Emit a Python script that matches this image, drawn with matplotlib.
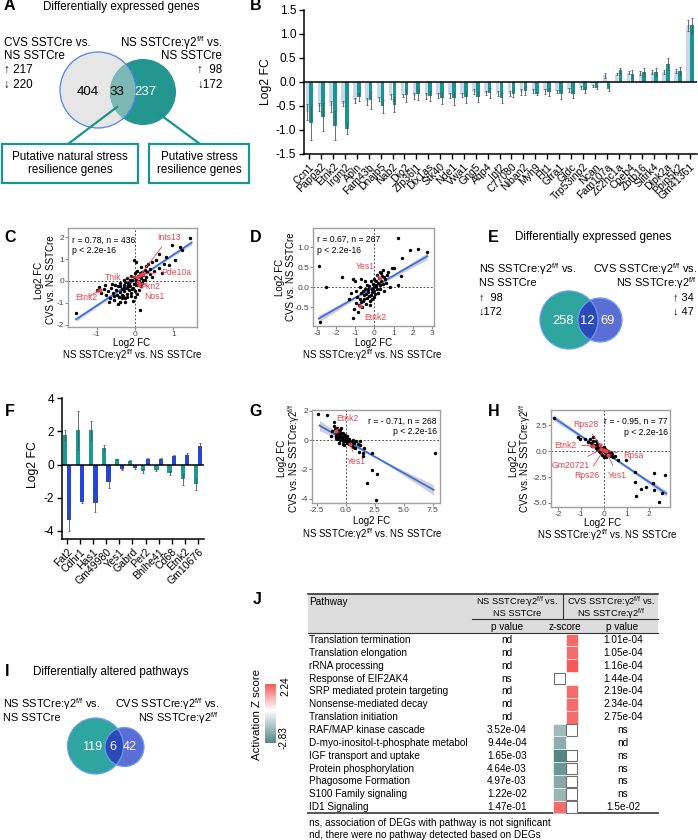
import numpy as np
import matplotlib
matplotlib.use('Agg')
import matplotlib.pyplot as plt
from matplotlib.patches import Circle, Rectangle
from matplotlib.colors import LinearSegmentedColormap, Normalize

plt.rcParams['font.family'] = ['Liberation Sans', 'DejaVu Sans']
plt.rcParams['mathtext.fontset'] = 'custom'
plt.rcParams['mathtext.rm'] = 'Liberation Sans'
plt.rcParams['mathtext.it'] = 'Liberation Sans:italic'
plt.rcParams['mathtext.bf'] = 'Liberation Sans:bold'

# ---------------- data ----------------
# Panel A venn
a_counts = ['404', '33', '237']
a_left_up, a_left_down = 217, 220
a_right_up, a_right_down = 98, 172

# Panel B
b_genes = ['Ccn1', 'Pappa2', 'Etnk2', 'Irgm2', 'Apln', 'Fam43b', 'Dnajb5', 'Nab2', 'Dio2', 'Zfp36l1',
           'Dlx1as', 'Stk40', 'Nde1', 'Vwa1', 'Gng5', 'Aqp4', 'Inf2', 'C77080', 'Niban2', 'Myh9',
           'Flt1', 'Gfra1', 'Gldc', 'Trp53inp2', 'Ncan', 'Fam107a', 'Zc2hc1a', 'Cpeb4', 'Zbtb16',
           'Slitrk4', 'Dlpk2a', 'Ppip5k2', 'Gm41361']
b_cvs = [-0.63, -0.52, -0.51, -0.45, -0.38, -0.40, -0.35, -0.30, -0.28, -0.29,
         -0.29, -0.28, -0.28, -0.27, -0.20, -0.23, -0.24, -0.24, -0.21, -0.19,
         -0.19, -0.19, -0.16, -0.12, -0.09, 0.14, 0.16, 0.19, 0.19, 0.21, 0.21, 0.23, 1.18]
b_cvs_err = [0.17, 0.08, 0.12, 0.05, 0.05, 0.07, 0.04, 0.05, 0.04, 0.06,
             0.06, 0.05, 0.05, 0.05, 0.05, 0.04, 0.06, 0.05, 0.06, 0.04,
             0.05, 0.03, 0.04, 0.03, 0.02, 0.05, 0.02, 0.03, 0.04, 0.04, 0.04, 0.04, 0.12]
b_ns = [-0.85, -0.73, -0.91, -0.97, -0.31, -0.38, -0.51, -0.47, -0.28, -0.26,
        -0.29, -0.33, -0.34, -0.31, -0.31, -0.23, -0.33, -0.24, -0.19, -0.24,
        -0.21, -0.26, -0.26, -0.17, -0.12, -0.14, 0.24, 0.17, 0.21, 0.21, 0.38, 0.23, 1.18]
b_ns_err = [0.35, 0.30, 0.30, 0.12, 0.08, 0.18, 0.14, 0.16, 0.13, 0.12,
            0.10, 0.12, 0.14, 0.12, 0.10, 0.10, 0.10, 0.08, 0.08, 0.04,
            0.08, 0.10, 0.08, 0.06, 0.03, 0.05, 0.06, 0.08, 0.08, 0.08, 0.13, 0.08, 0.15]

# Panel C scatter
c_x = [1.43, 1.17, 0.96, 1.22, 0.63, 0.82, 0.55, 0.45, 0.35, 0.28,
       -0.03, 0.02, 0.15, 0.62, 0.90, 0.50, 0.70, 0.38, 1.05, 0.75,
       -1.54, 0.13, -1.00, -0.95, -0.88, -0.80, -0.75, -0.70, -0.65, -0.62,
       -0.58, -0.55, -0.50, -0.48, -0.45, -0.42, -0.40, -0.38, -0.35, -0.33,
       -0.30, -0.28, -0.25, -0.22, -0.20, -0.18, -0.15, -0.12, -0.10, -0.08,
       -0.05, -0.03, 0.00, 0.02, 0.05, 0.08, 0.10, 0.12, 0.15, 0.18,
       0.20, 0.22, 0.25, 0.28, 0.32, -0.60, -0.52, -0.40, -0.30, -0.20,
       -0.10, 0.00, 0.05, -0.35, -0.20, -0.10, 0.00, 0.05, 0.10, 0.15,
       -0.68, -0.45, -0.25, -0.05, -0.15, -0.25, -0.08, 0.02, -0.12, -0.02,
       0.18, 0.25, -0.38, -0.28, -0.18, -0.32, -0.55, -0.78, 0.40, 0.45]
c_y = [1.97, 1.58, 1.63, 1.40, 1.25, 1.12, 0.95, 0.88, 0.78, 0.70,
       0.97, 0.85, 0.62, 0.60, 0.72, 0.45, 0.38, 0.30, 0.95, 0.80,
       -1.45, -1.35, -0.42, -0.28, -0.55, -0.35, -0.62, -0.45, -0.78, -0.30,
       -0.55, -0.88, -0.40, -0.65, -0.25, -0.75, -0.50, -0.95, -0.35, -0.62,
       -0.20, -0.48, -0.80, -0.30, -0.60, -0.10, -0.42, -0.25, -0.55, 0.05,
       -0.30, -0.12, -0.45, 0.10, -0.20, 0.25, 0.00, 0.35, 0.15, 0.42,
       0.05, 0.28, 0.50, 0.18, 0.40, -0.15, -0.20, -0.10, 0.05, 0.15,
       0.25, 0.35, 0.45, -0.80, -0.75, -0.70, -0.75, -0.60, -0.40, -0.25,
       -0.95, -1.05, -0.98, -0.90, -0.15, -0.05, -0.38, -0.05, 0.05, 0.18,
       -0.08, 0.05, -0.25, -0.32, -0.22, -0.70, -0.70, -0.20, 0.55, 0.20]
c_fit_x, c_fit_y = [-1.54, 1.48], [-1.76, 1.76]
c_band = (0.03, 0.10)
c_lab = ['Ints13', 'Pde10a', 'Tnik', 'Pkn2', 'Nos1', 'Etnk2']
c_lab_px = [0.13, 0.22, 0.04, 0.09, 0.11, -0.91]
c_lab_py = [0.26, 0.34, 0.18, -0.05, -0.20, -0.43]
c_lab_tx = [0.89, 1.09, -0.57, 0.39, 0.50, -1.27]
c_lab_ty = [2.00, 0.41, 0.16, -0.27, -0.73, -0.75]

# Panel D scatter
d_x = [-2.90, -2.50, -2.85, -1.70, 1.20, 1.85, 2.25, 2.75, 1.45, -1.10,
       1.40, 1.00, 0.90, 0.70, -1.00, -1.10, 0.80, 1.20, -1.30, -0.70,
       -0.50, 0.50, -1.05, -0.95, -0.90, -0.85, -0.80, -0.75, -0.70, -0.65,
       -0.60, -0.55, -0.50, -0.45, -0.40, -0.35, -0.30, -0.25, -0.20, -0.15,
       -0.10, -0.05, 0.00, 0.05, 0.10, 0.15, 0.20, 0.25, 0.30, 0.35,
       0.40, 0.45, 0.55, 0.60, 0.65, -0.60, -0.45, -0.30, -0.15, 0.05,
       -0.55, -0.40, -0.20, 0.00, 0.15, 0.35, 0.50, -0.95, -0.75, -0.25,
       -0.70, 0.20, -0.12, -0.32, 0.28, 0.45, -1.20, 0.30, -0.05, 0.10]
d_y = [0.52, 0.00, -0.88, 0.25, 1.22, 0.93, 0.95, 0.87, 0.72, -0.78,
       0.28, 0.48, 0.47, 0.38, 0.15, 0.20, 0.00, 0.05, -0.30, 0.20,
       0.15, -0.10, -0.55, -0.40, -0.25, -0.62, -0.45, -0.30, -0.15, -0.50,
       -0.35, -0.20, -0.05, -0.42, -0.28, -0.12, 0.02, -0.35, -0.20, -0.05,
       0.08, -0.25, -0.10, 0.05, 0.15, -0.05, 0.10, 0.22, 0.05, 0.15,
       0.28, 0.08, 0.20, 0.10, 0.30, -0.10, -0.18, -0.22, -0.30, -0.18,
       -0.30, 0.05, 0.15, 0.20, 0.30, 0.35, 0.25, -0.10, 0.00, -0.45,
       -0.38, -0.15, -0.12, -0.05, 0.38, 0.42, -0.15, -0.05, 0.00, 0.02]
d_fit_x, d_fit_y = [-2.90, 2.75], [-0.79, 0.77]
d_band = (0.03, 0.09)
d_lab = ['Yes1', 'Etnk2']
d_lab_px = [0.31, -0.73]
d_lab_py = [0.22, -0.48]
d_lab_tx = [-0.48, 0.04]
d_lab_ty = [0.51, -0.75]

# Panel E venn
e_counts = ['258', '12', '69']
e_left_up, e_left_down = 98, 172
e_right_up, e_right_down = 34, 47

# Panel F
f_genes = ['Fat2', 'Cdhr1', 'Has1', 'Gm49980', 'Yes1', 'Gabrd', 'Per2', 'Bhlhe41', 'Cd68', 'Etnk2', 'Gm10676']
f_ns = [1.80, 2.06, 2.06, 1.00, 0.32, 0.20, -0.40, -0.34, -0.54, -0.90, -1.20]
f_ns_err = [0.30, 1.20, 0.60, 0.20, 0.04, 0.05, 0.14, 0.08, 0.12, 0.34, 0.32]
f_cvs = [-3.34, -2.28, -2.34, -1.08, -0.30, -0.20, 0.32, 0.32, 0.50, 0.56, 1.10]
f_cvs_err = [0.70, 0.05, 0.54, 0.36, 0.06, 0.05, 0.10, 0.08, 0.05, 0.14, 0.20]

# Panel G scatter
g_x = [-2.47, -1.66, -1.08, -1.00, -0.95, -0.90, -0.85, -0.80, -0.75, -0.70,
       -0.65, -0.60, -0.55, -0.50, -0.45, -0.40, -0.35, -0.30, -0.25, -0.20,
       -0.15, -0.10, -0.05, 0.00, 0.05, 0.10, 0.15, 0.20, 0.25, 0.30,
       0.35, 0.40, 0.50, 0.55, 0.60, 0.70, 0.80, 0.90, 1.00, 1.10,
       1.25, 1.20, 1.54, 1.48, 1.50, 2.27, 2.27, 2.70, 1.83, 2.62,
       7.70, -1.20, -1.30, -0.60, -0.30, -0.90, -0.45, 0.10, 0.60, -0.20]
g_y = [1.77, 1.68, 1.26, 0.95, 0.75, 0.50, 0.30, 0.85, 0.10, 0.60,
       0.40, 0.20, 0.70, 0.00, 0.50, 0.30, 0.15, 0.45, -0.05, 0.25,
       0.10, 0.35, -0.10, 0.15, 0.00, -0.20, 0.10, -0.10, -0.30, 0.05,
       -0.15, -0.35, -0.10, -0.25, -0.45, -0.20, -0.57, -0.05, -0.30, -0.80,
       -0.34, -0.05, -0.57, -0.92, -1.10, -0.92, -2.07, -2.30, -2.92, -4.07,
       -0.87, 0.60, 0.30, -0.20, -0.25, 0.15, 0.85, 0.30, 0.00, -0.35]
g_fit_x, g_fit_y = [-2.30, 7.59], [0.99, -3.40]
g_band = (0.06, 0.35)
g_lab = ['Etnk2', 'Yes1']
g_lab_px = [-0.84, 0.38]
g_lab_py = [0.62, -0.28]
g_lab_tx = [0.12, 0.88]
g_lab_ty = [1.44, -1.47]

# Panel H scatter
h_x = [-2.15, -1.12, -1.05, -0.83, -0.61, -0.47, -0.45, -0.35, -0.55, -0.40,
       -0.30, -0.25, -0.20, -0.15, -0.10, -0.05, 0.00, 0.05, 0.10, 0.15,
       0.20, 0.25, 0.30, -0.05, 0.00, 0.10, -0.10, -0.20, -0.30, 0.35,
       0.40, 0.63, 0.99, 1.36, 1.36, 1.43, 1.84, 1.65, 2.16, 2.19,
       2.20, 2.42, 2.67, 2.57, -0.70, -0.50, 0.05, 0.20, -0.15, 0.00,
       0.30, 0.50, -0.35, 0.12]
h_y = [3.18, 1.40, 1.23, 1.23, 1.23, 1.40, 1.00, 0.95, 0.80, 0.60,
       0.70, 0.40, 0.55, 0.30, 0.15, 0.35, 0.05, -0.10, 0.10, -0.25,
       -0.40, -0.15, -0.50, -0.35, -0.55, -0.60, -0.20, 0.00, 0.20, -0.30,
       -0.60, -0.88, -0.81, -2.01, -2.99, -4.35, -3.47, -3.64, -3.05, -3.80,
       -2.11, -4.87, -2.27, -4.03, 0.90, 0.50, 0.20, 0.00, -0.10, 0.40,
       -0.10, -0.45, 0.30, -0.40]
h_fit_x, h_fit_y = [-2.18, 2.74], [3.25, -4.10]
h_band = (0.10, 0.30)
h_lab = ['Rps28', 'Etnk2', 'Gm20721', 'Rps26', 'Yes1', 'Rpsa']
h_lab_px = [-0.15, -0.45, -0.10, 0.00, 0.20, 0.10]
h_lab_py = [0.60, 0.55, 0.20, 0.10, -0.35, 0.05]
h_lab_tx = [-0.80, -1.69, -1.42, -0.72, 0.58, 1.28]
h_lab_ty = [2.60, 0.55, -1.33, -2.37, -2.37, -0.39]

# Panel I venn
i_counts = ['119', '6', '42']

# Panel J table
pathways = ['Translation termination', 'Translation elongation', 'rRNA processing',
            'Response of EIF2AK4', 'SRP mediated protein targeting', 'Nonsense-mediated decay',
            'Translation initiation', 'RAF/MAP kinase cascade', 'D-myo-inositol-t-phosphate metabol',
            'IGF transport and uptake', 'Protein phosphorylation', 'Phagosome Formation',
            'S100 Family signaling', 'ID1 Signaling']
p_ns = ['nd', 'nd', 'nd', 'ns', 'nd', 'nd', 'nd', '3.52e-04', '9.44e-04', '1.65e-03',
        '4.64e-03', '4.97e-03', '1.22e-02', '1.47e-01']
p_cvs = ['1.01e-04', '1.05e-04', '1.16e-04', '1.44e-04', '2.19e-04', '2.34e-04', '2.75e-04',
         'ns', 'nd', 'ns', 'ns', 'ns', 'ns', '1.5e-02']
nan = float('nan')
z_ns = [nan, nan, nan, 0.0, nan, nan, nan, -1.6, -1.9, -2.83, -2.45, -2.0, -1.7, 2.0]
z_cvs = [2.0, 2.0, 2.24, nan, 2.0, 2.0, 2.0, 0.0, nan, 0.0, 0.0, 0.0, 0.0, 0.0]
z_min, z_max = -2.83, 2.24

# ---------------- figure ----------------
W, H = 698, 840
fig = plt.figure(figsize=(W / 100, H / 100), dpi=100)


def rect(x0, y0, x1, y1):
    return [x0 / W, 1 - y1 / H, (x1 - x0) / W, (y1 - y0) / H]


ov = fig.add_axes([0, 0, 1, 1])
ov.set_xlim(0, W)
ov.set_ylim(H, 0)
ov.axis('off')
ov.patch.set_alpha(0)

G2 = r'γ2$^{\mathregular{f/f}}$'
RED = '#e8434a'
TEAL = '#17958e'
FS = 8.4


def T(x, y, s, **kw):
    kw.setdefault('fontsize', FS)
    kw.setdefault('va', 'center')
    return ov.text(x, y, s, **kw)


def letter(x, y, s):
    T(x, y, s, fontsize=11.5, fontweight='bold', ha='center')


def venn(c1, r1, c2, r2, col1, col2, colo, edge, edge2=True):
    p1 = Circle(c1, r1, facecolor=col1, edgecolor='none', zorder=2)
    p2 = Circle(c2, r2, facecolor=col2, edgecolor='none', zorder=2)
    ov.add_patch(p1)
    ov.add_patch(p2)
    po = Circle(c2, r2, facecolor=colo, edgecolor='none', zorder=3)
    ov.add_patch(po)
    po.set_clip_path(p1)
    ov.add_patch(Circle(c1, r1, facecolor='none', edgecolor=edge, lw=0.9, zorder=4))
    if edge2:
        ov.add_patch(Circle(c2, r2, facecolor='none', edgecolor=edge, lw=0.9, zorder=4))


# ---- Panel A ----
letter(9, 6, 'A')
T(43, 7, 'Differentially expressed genes')
T(4, 43, 'CVS SSTCre vs.')
T(4, 56, 'NS SSTCre')
T(4, 70, '↑ %d' % a_left_up)
T(4, 85, '↓ %d' % a_left_down)
T(222, 42.5, 'NS SSTCre:' + G2 + ' vs.', ha='right')
T(222, 56, 'NS SSTCre', ha='right')
T(197, 70, '↑  %d' % a_right_up)
T(197, 85, '↓%d' % a_right_down)
venn((98, 90), 38, (143, 92), 33, '#e6e6e6', '#23968f', '#7cb8b4', '#4f83f0', edge2=False)
T(88, 92, a_counts[0], ha='center', fontsize=9.5, zorder=6)
T(117, 92, a_counts[1], ha='center', fontsize=9.5, zorder=6)
T(145, 92, a_counts[2], ha='center', fontsize=9.5, color='white', zorder=6)
ov.plot([117, 68], [107, 144], color=TEAL, lw=1.6, zorder=5)
ov.plot([158, 200], [113, 144], color=TEAL, lw=1.6, zorder=5)
ov.add_patch(Rectangle((2, 144), 136, 39, facecolor='white', edgecolor=TEAL, lw=1.6, zorder=5))
ov.add_patch(Rectangle((149, 144), 100, 39, facecolor='white', edgecolor=TEAL, lw=1.6, zorder=5))
T(70, 157, 'Putative natural stress', ha='center', zorder=6)
T(70, 170, 'resilience genes', ha='center', zorder=6)
T(199, 157, 'Putative stress', ha='center', zorder=6)
T(199, 170, 'resilience genes', ha='center', zorder=6)

# ---- Panel B ----
letter(256, 6, 'B')
axB = fig.add_axes(rect(304, 10, 697, 154))
xb = np.arange(len(b_genes))
ek = dict(lw=0.6, ecolor='#555555', capsize=1.0, capthick=0.6)
axB.bar(xb - 0.16, b_cvs, 0.3, color='#c9d7ee', yerr=b_cvs_err, error_kw=ek, zorder=2)
axB.bar(xb + 0.16, b_ns, 0.3, color=TEAL, yerr=b_ns_err, error_kw=ek, zorder=2)
axB.axhline(0, color='black', lw=1.1, zorder=3)
axB.set_xlim(-0.45, 32.6)
axB.set_ylim(-1.5, 1.5)
axB.set_yticks(np.arange(-1.5, 1.51, 0.5))
axB.set_yticklabels(['%.1f' % v for v in np.arange(-1.5, 1.51, 0.5)])
axB.set_xticks(xb)
axB.set_xticklabels(b_genes, rotation=45, ha='right', rotation_mode='anchor', fontsize=7.6)
axB.tick_params(axis='y', labelsize=8.6, length=3.5, width=1.0, pad=2)
axB.tick_params(axis='x', length=3.5, width=1.0, pad=2)
for s in ('top', 'right'):
    axB.spines[s].set_visible(False)
for s in ('left', 'bottom'):
    axB.spines[s].set_linewidth(1.1)
T(266, 82, 'Log2 FC', rotation=90, ha='center', fontsize=8.8)


# ---- scatter helper ----
def scatter_panel(r, xs, ys, xlim, ylim, xt, xtl, yt, ytl, fx, fy, band,
                  stat1, stat2, stat_x, stat_ha, names, px, py, tx, ty, arrows):
    ax = fig.add_axes(rect(*r))
    ax.set_xlim(xlim)
    ax.set_ylim(ylim)
    ax.axhline(0, color='#333333', lw=0.6, ls=(0, (2.2, 2.2)), zorder=1)
    ax.axvline(0, color='#333333', lw=0.6, ls=(0, (2.2, 2.2)), zorder=1)
    xl = np.linspace(fx[0], fx[1], 100)
    slope = (fy[1] - fy[0]) / (fx[1] - fx[0])
    yl = fy[0] + slope * (xl - fx[0])
    xc = 0.5 * (fx[0] + fx[1])
    hr = 0.5 * (fx[1] - fx[0])
    hw = np.sqrt(band[0] ** 2 + (band[1] ** 2 - band[0] ** 2) * ((xl - xc) / hr) ** 2)
    ax.fill_between(xl, yl - hw, yl + hw, color='#bcbcbc', alpha=0.7, lw=0, zorder=2)
    ax.plot(fx, fy, color='#3a6ee8', lw=1.3, zorder=3)
    ax.scatter(xs, ys, s=6, c='black', lw=0, zorder=4)
    ax.scatter(px, py, s=9, c=RED, lw=0, zorder=6)
    for n, a, b, c, d, arr in zip(names, px, py, tx, ty, arrows):
        ax.annotate(n, xy=(a, b), xytext=(c, d), color=RED, fontsize=6.2,
                    ha='center', va='center', zorder=7,
                    arrowprops=dict(arrowstyle='->' if arr else '-', color=RED, lw=0.6,
                                    shrinkA=2, shrinkB=0, mutation_scale=5))
    ax.text(stat_x, 0.88, stat1, transform=ax.transAxes, fontsize=6.2, ha=stat_ha, va='center', zorder=8)
    ax.text(stat_x, 0.77, stat2, transform=ax.transAxes, fontsize=6.2, ha=stat_ha, va='center', zorder=8)
    ax.set_xticks(xt)
    ax.set_xticklabels(xtl)
    ax.set_yticks(yt)
    ax.set_yticklabels(ytl)
    ax.tick_params(length=2.0, width=0.8, color='#8a8a8a', labelsize=6.0, labelcolor='#444444', pad=0.8)
    for s in ax.spines.values():
        s.set_color('#a0a0a0')
        s.set_linewidth(1.0)
    return ax


XL2 = 'NS SSTCre:' + G2 + ' vs. NS SSTCre'
LFS = 7.0

# ---- Panel C ----
letter(10, 237, 'C')
scatter_panel((68, 228, 197, 327), c_x, c_y, (-1.75, 1.62), (-2.11, 2.43),
              [-1, 0, 1], ['-1', '0', '1'], [-2, -1, 0, 1, 2], ['-2', '-1', '0', '1', '2'],
              c_fit_x, c_fit_y, c_band, 'r = 0.78, n = 436', 'p < 2.2e-16', 0.03, 'left',
              c_lab, c_lab_px, c_lab_py, c_lab_tx, c_lab_ty, [0, 0, 1, 0, 0, 1])
T(39.5, 280, 'Log2 FC', rotation=90, ha='center', fontsize=LFS)
T(51, 280, 'CVS vs. NS SSTCre', rotation=90, ha='center', fontsize=LFS)
T(132, 342.5, 'Log2 FC', ha='center', fontsize=LFS)
T(132, 355, XL2, ha='center', fontsize=LFS)

# ---- Panel D ----
letter(256, 237, 'D')
scatter_panel((313, 228, 434, 326), d_x, d_y, (-3.2, 3.1), (-0.975, 1.475),
              [-3, -2, -1, 0, 1, 2, 3], ['-3', '-2', '-1', '0', '1', '2', '3'],
              [-0.5, 0, 0.5, 1.0], ['-0.5', '0.0', '0.5', '1.0'],
              d_fit_x, d_fit_y, d_band, 'r = 0.67, n = 267', 'p < 2.2e-16', 0.03, 'left',
              d_lab, d_lab_px, d_lab_py, d_lab_tx, d_lab_ty, [0, 0])
T(280, 277, 'Log2 FC', rotation=90, ha='center', fontsize=LFS)
T(291.5, 277, 'CVS vs. NS SSTCre', rotation=90, ha='center', fontsize=LFS)
T(374, 342.5, 'Log2 FC', ha='center', fontsize=LFS)
T(372, 355, XL2, ha='center', fontsize=LFS)

# ---- Panel E ----
EFS = 7.9
letter(493, 237, 'E')
T(515, 237, 'Differentially expressed genes')
T(479, 269, 'NS SSTCre:' + G2 + ' vs.', fontsize=EFS)
T(479, 283, 'NS SSTCre', fontsize=EFS)
T(479, 297, '↑  %d' % e_left_up, fontsize=EFS)
T(479, 311, '↓%d' % e_left_down, fontsize=EFS)
T(697, 269, 'CVS SSTCre:' + G2 + ' vs.', ha='right', fontsize=EFS)
T(697, 283, 'NS SSTCre:' + G2, ha='right', fontsize=EFS)
T(673, 297, '↑ %d' % e_right_up, fontsize=EFS)
T(673, 311, '↓ %d' % e_right_down, fontsize=EFS)
venn((569, 320), 29, (600, 320), 22, '#2ea59e', '#5a6ed6', '#2c49b8', '#6a9cf2')
T(563, 321, e_counts[0], ha='center', fontsize=9.3, color='white', zorder=6)
T(587, 321, e_counts[1], ha='center', fontsize=9.3, color='white', zorder=6)
T(608, 321, e_counts[2], ha='center', fontsize=9.3, color='white', zorder=6)

# ---- Panel F ----
letter(10, 412, 'F')
axF = fig.add_axes(rect(62, 398, 204, 539))
xf = np.arange(len(f_genes))
axF.bar(xf - 0.17, f_ns, 0.32, color='#1a9a92', yerr=f_ns_err, error_kw=ek, zorder=2)
axF.bar(xf + 0.17, f_cvs, 0.32, color='#2446d8', yerr=f_cvs_err, error_kw=ek, zorder=2)
axF.axhline(0, color='black', lw=1.1, zorder=3)
axF.set_xlim(-0.38, 10.46)
axF.set_ylim(-4.5, 4.02)
axF.set_yticks([-4, -2, 0, 2, 4])
axF.set_yticklabels(['-4', '-2', '0', '2', '4'])
axF.set_xticks(xf)
axF.set_xticklabels(f_genes, rotation=45, ha='right', rotation_mode='anchor', fontsize=7.6)
axF.tick_params(axis='y', labelsize=8.6, length=3.5, width=1.0, pad=2)
axF.tick_params(axis='x', length=3.5, width=1.0, pad=2)
for s in ('top', 'right'):
    axF.spines[s].set_visible(False)
for s in ('left', 'bottom'):
    axF.spines[s].set_linewidth(1.1)
T(33, 465, 'Log2 FC', rotation=90, ha='center', fontsize=8.8)

# ---- Panel G ----
letter(256, 412, 'G')
scatter_panel((312, 410, 440, 503), g_x, g_y, (-2.95, 8.15), (-4.3, 2.05),
              [-2.5, 0, 2.5, 5.0, 7.5], ['-2.5', '0.0', '2.5', '5.0', '7.5'],
              [-4, -2, 0, 2], ['-4', '-2', '0', '2'],
              g_fit_x, g_fit_y, g_band, 'r = - 0.71, n = 268', 'p < 2.2e-16', 0.975, 'right',
              g_lab, g_lab_px, g_lab_py, g_lab_tx, g_lab_ty, [0, 0])
T(282, 458, 'Log2 FC', rotation=90, ha='center', fontsize=LFS)
T(294, 458, 'CVS vs. NS SSTCre:' + G2, rotation=90, ha='center', fontsize=LFS)
T(372, 521.5, 'Log2 FC', ha='center', fontsize=LFS)
T(372, 534, XL2, ha='center', fontsize=LFS)

# ---- Panel H ----
letter(494, 412, 'H')
scatter_panel((551, 410, 670, 507), h_x, h_y, (-2.3, 2.9), (-5.4, 4.0),
              [-2, -1, 0, 1, 2], ['-2', '-1', '0', '1', '2'],
              [-5.0, -2.5, 0, 2.5], ['-5.0', '-2.5', '0.0', '2.5'],
              h_fit_x, h_fit_y, h_band, 'r = - 0.95, n = 77', 'p < 2.2e-16', 0.98, 'right',
              h_lab, h_lab_px, h_lab_py, h_lab_tx, h_lab_ty, [0, 1, 0, 0, 0, 0])
T(514, 458, 'Log2 FC', rotation=90, ha='center', fontsize=LFS)
T(525.5, 458, 'CVS vs. NS SSTCre:' + G2, rotation=90, ha='center', fontsize=LFS)
T(603, 522.5, 'Log2 FC', ha='center', fontsize=LFS)
T(607, 535, XL2, ha='center', fontsize=LFS)

# ---- Panel I ----
T(7, 672, 'I', fontsize=11.5, fontweight='bold', ha='center')
T(33, 672, 'Differentially altered pathways')
T(3, 704.5, 'NS SSTCre:' + G2 + ' vs.', fontsize=EFS)
T(3, 718, 'NS SSTCre', fontsize=EFS)
T(219, 704.5, 'CVS SSTCre:' + G2 + ' vs.', ha='right', fontsize=EFS)
T(219, 718, 'NS SSTCre:' + G2, ha='right', fontsize=EFS)
venn((95.5, 746), 28, (124.5, 747), 19.5, '#2ea59e', '#5a6ed6', '#2c49b8', '#6a9cf2')
T(92, 747, i_counts[0], ha='center', fontsize=9.0, color='white', zorder=6)
T(113, 747, i_counts[1], ha='center', fontsize=9.0, color='white', zorder=6)
T(130, 747, i_counts[2], ha='center', fontsize=9.0, color='white', zorder=6)

# ---- Panel J ----
letter(257, 600, 'J')
TFS = 7.2
HFS = 6.7
tx0, tx1 = 308, 658
ov.add_patch(Rectangle((tx0, 594), tx1 - tx0, 39, facecolor='#dcdcdc', edgecolor='none', zorder=1))
ov.plot([tx0, tx1], [594, 594], color='#333333', lw=1.2, zorder=2)
ov.plot([472, tx1], [619, 619], color='#333333', lw=0.8, zorder=2)
ov.plot([563, 563], [594, 619], color='#333333', lw=0.8, zorder=2)
ov.plot([tx0, tx1], [633, 633], color='#333333', lw=0.8, zorder=2)
ov.plot([tx0, tx1], [813, 813], color='#555555', lw=1.4, zorder=2)
T(309, 602, 'Pathway', fontsize=TFS, zorder=3)
T(517, 601.5, 'NS SSTCre:' + G2 + ' vs.', ha='center', fontsize=HFS, zorder=3)
T(517, 613.5, 'NS SSTCre', ha='center', fontsize=HFS, zorder=3)
T(611, 601.5, 'CVS SSTCre:' + G2 + ' vs.', ha='center', fontsize=HFS, zorder=3)
T(611, 613.5, 'NS SSTCre:' + G2, ha='center', fontsize=HFS, zorder=3)
T(507, 627, 'p value', ha='center', fontsize=TFS, zorder=3)
T(565, 627, 'z-score', ha='center', fontsize=TFS, zorder=3)
T(622, 627, 'p value', ha='center', fontsize=TFS, zorder=3)

zcmap = LinearSegmentedColormap.from_list(
    'z', [(0.0, '#568784'), (-z_min / (z_max - z_min), '#ffffff'), (1.0, '#f45a5a')])
znorm = Normalize(z_min, z_max)
row0, dy = 640, 12.85
cw = 12.3
for i, pw in enumerate(pathways):
    y = row0 + i * dy
    T(309, y, pw, fontsize=TFS)
    T(507, y, p_ns[i], ha='center', fontsize=TFS)
    T(623, y, p_cvs[i], ha='center', fontsize=TFS)
    for j, z in enumerate((z_ns[i], z_cvs[i])):
        if np.isnan(z):
            continue
        x0 = 553.3 + j * cw
        if z == 0:
            ov.add_patch(Rectangle((x0 + 0.5, y - dy / 2 + 0.6), cw - 1, dy - 1.2, facecolor='white',
                                   edgecolor='#6f6f6f', lw=0.8, zorder=3))
        else:
            ov.add_patch(Rectangle((x0, y - dy / 2), cw, dy, facecolor=zcmap(znorm(z)),
                                   edgecolor='white', lw=0.4, zorder=3))
T(309, 823, 'ns, association of DEGs with pathway is not significant', fontsize=TFS)
T(309, 835, 'nd, there were no pathway detected based on DEGs', fontsize=TFS)

axCB = fig.add_axes(rect(265, 684, 275, 743))
grad = np.linspace(z_min, z_max, 256)[:, None]
axCB.imshow(grad, aspect='auto', cmap=zcmap, norm=znorm, origin='lower', extent=[0, 1, z_min, z_max])
axCB.axis('off')
T(257, 715, 'Activation Z score', rotation=90, ha='center', fontsize=8.2)
T(285, 686, '%.2f' % z_max, rotation=90, ha='center', fontsize=7.2)
T(284, 738, '%.2f' % z_min, rotation=90, ha='center', fontsize=7.2)

fig.savefig('out.png', dpi=100)
